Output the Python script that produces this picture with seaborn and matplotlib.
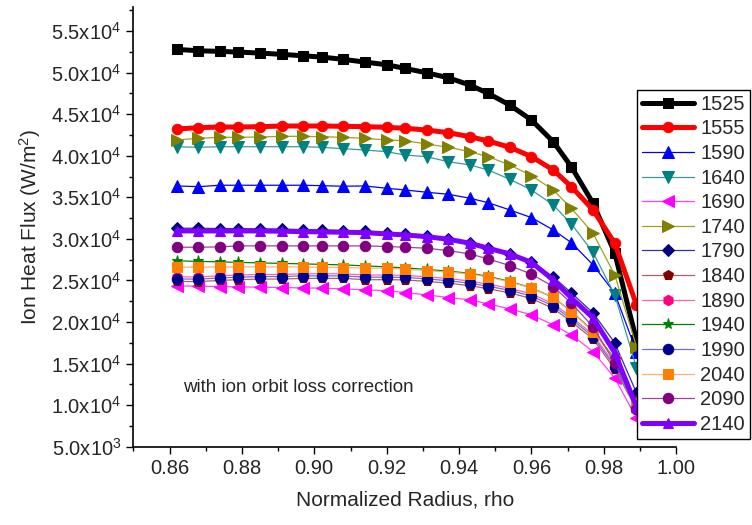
import matplotlib
matplotlib.use("Agg")
import matplotlib.pyplot as plt
import matplotlib.ticker as mticker
import seaborn as sns
import numpy as np
import pandas as pd

# normalized radius grid
rho = [0.862, 0.868, 0.874, 0.879, 0.885, 0.891, 0.897, 0.902, 0.908, 0.914, 0.920, 0.925,
       0.931, 0.937, 0.943, 0.948, 0.954, 0.960, 0.966, 0.971, 0.977, 0.983, 0.989]

# ion heat flux (W/m^2) per case
q1525 = [52800, 52630, 52560, 52475, 52355, 52200, 52030, 51875, 51600, 51270, 50950, 50515,
         49990, 49385, 48510, 47510, 46105, 44300, 41695, 38690, 34290, 28320, 17800]
q1555 = [43220, 43380, 43460, 43460, 43500, 43580, 43580, 43580, 43545, 43500, 43425, 43305,
         43100, 42780, 42295, 41780, 41025, 39895, 38295, 36290, 33490, 29485, 22070]
q1590 = [36370, 36285, 36455, 36455, 36455, 36455, 36455, 36405, 36335, 36370, 36090, 35890,
         35615, 35370, 34890, 34360, 33485, 32560, 31080, 29555, 26875, 23475, 16455]
q1640 = [41090, 41020, 41090, 41090, 41090, 41090, 41090, 41020, 40850, 40695, 40490, 40095,
         39890, 39290, 38895, 38295, 37175, 35890, 34090, 31805, 28380, 23270, 14495]
q1690 = [24350, 24315, 24265, 24230, 24195, 24145, 24110, 24075, 23990, 23870, 23785, 23545,
         23270, 22945, 22670, 22185, 21585, 20865, 19660, 18460, 16455, 13260, 8450]
q1740 = [41900, 42100, 42220, 42220, 42260, 42340, 42340, 42295, 42220, 42100, 41900, 41815,
         41420, 41020, 40490, 39890, 38895, 37610, 35890, 33690, 30685, 25670, 17055]
q1790 = [31285, 31285, 31240, 31240, 31200, 31165, 31120, 31080, 31000, 30900, 30720, 30600,
         30360, 30000, 29520, 28920, 28195, 27235, 25430, 23510, 21105, 17500, 11490]
q1840 = [24890, 24855, 25010, 25095, 25170, 25170, 25250, 25250, 25250, 25095, 25095, 25070,
         24890, 24675, 24375, 24010, 23510, 22825, 21645, 20045, 17955, 14350, 9545]
q1890 = [25450, 25420, 25570, 25650, 25720, 25720, 25800, 25800, 25800, 25650, 25650, 25620,
         25440, 25230, 24930, 24560, 24060, 23380, 22200, 20600, 18500, 14900, 10100]
q1940 = [27355, 27295, 27235, 27175, 27115, 27055, 26995, 26935, 26875, 26755, 26635, 26515,
         26335, 26115, 25875, 25495, 24890, 24110, 22965, 21285, 18940, 15575, 10530]
q1990 = [25190, 25155, 25310, 25395, 25470, 25470, 25550, 25550, 25550, 25395, 25395, 25370,
         25190, 24975, 24675, 24310, 23810, 23125, 21945, 20345, 18255, 14650, 9845]
q2040 = [26600, 26600, 26635, 26635, 26635, 26635, 26635, 26600, 26560, 26480, 26480, 26360,
         26190, 26000, 25795, 25395, 24830, 24075, 22990, 21260, 18855, 15450, 10290]
q2090 = [29000, 29000, 29040, 29160, 29160, 29160, 29160, 29160, 29160, 29160, 29080, 29000,
         28880, 28595, 28195, 27595, 26790, 25755, 24265, 22270, 19425, 15095, 9570]
q2140 = [30960, 30960, 30960, 30960, 30960, 30925, 30875, 30840, 30805, 30755, 30600, 30480,
         30275, 29960, 29480, 28880, 28195, 27175, 25070, 22910, 20505, 16300, 9810]

labels = ["1525", "1555", "1590", "1640", "1690", "1740", "1790",
          "1840", "1890", "1940", "1990", "2040", "2090", "2140"]
series = [q1525, q1555, q1590, q1640, q1690, q1740, q1790,
          q1840, q1890, q1940, q1990, q2040, q2090, q2140]

# (line colour, marker face colour, marker, marker size, line width)
styles = [
    ("#000000", "#000000", "s", 7.5, 3.6),
    ("#ff0000", "#ff0000", "o", 7.5, 3.6),
    ("#0000ff", "#0000ff", "^", 8.0, 0.9),
    ("#3a9a9a", "#008080", "v", 8.0, 0.9),
    ("#ff40ff", "#ff00ff", "<", 8.0, 0.9),
    ("#a0a020", "#808000", ">", 8.0, 0.9),
    ("#3030a0", "#000080", "D", 6.0, 0.9),
    ("#b06060", "#800000", "p", 7.5, 0.9),
    ("#ff60a8", "#ff0080", "h", 7.5, 0.9),
    ("#008000", "#008000", "*", 8.0, 0.9),
    ("#7070d0", "#000090", "o", 7.5, 0.9),
    ("#ffb070", "#ff8000", "s", 6.5, 0.9),
    ("#a040a0", "#800080", "o", 7.5, 0.9),
    ("#8000ff", "#8000ff", "^", 6.5, 3.6),
]

sns.set_style("ticks")
plt.rcParams["font.family"] = ["Liberation Sans", "DejaVu Sans"]
plt.rcParams["mathtext.default"] = "regular"

fig = plt.figure(figsize=(7.52, 5.25), dpi=100)
ax = fig.add_axes([0.1773, 0.1491, 0.7220, 0.8376])

for lab, vals, (lc, mc, mk, ms, lw) in zip(labels, series, styles):
    df = pd.DataFrame({"rho": rho, "q": vals})
    sns.lineplot(data=df, x="rho", y="q", ax=ax, color=lc, marker=mk,
                 markersize=ms, markerfacecolor=mc, markeredgecolor=mc,
                 linewidth=lw, label=lab)

ax.set_xlim(0.85, 1.0)
ax.set_ylim(5000, 57900)
ax.xaxis.set_major_locator(mticker.MultipleLocator(0.02))
ax.xaxis.set_minor_locator(mticker.MultipleLocator(0.01))
ax.yaxis.set_major_locator(mticker.MultipleLocator(5000))
ax.yaxis.set_minor_locator(mticker.MultipleLocator(2500))
ax.xaxis.set_major_formatter(mticker.FormatStrFormatter("%.2f"))


def sci(v, pos):
    if v <= 0:
        return ""
    e = int(np.floor(np.log10(v)))
    return r"%.1fx10$^{%d}$" % (v / 10 ** e, e)


ax.yaxis.set_major_formatter(mticker.FuncFormatter(sci))
ax.tick_params(which="major", length=5, width=1, labelsize=14.5, color="black")
ax.tick_params(which="minor", length=3, width=1, color="black")
for s in ["left", "bottom"]:
    ax.spines[s].set_linewidth(1.2)
    ax.spines[s].set_color("black")
sns.despine(ax=ax)

ax.set_xlabel("Normalized Radius, rho", fontsize=15, labelpad=9)
ax.set_ylabel("Ion Heat Flux (W/m$^2$)", fontsize=15, labelpad=6)
ax.text(0.8637, 12090, "with ion orbit loss correction", fontsize=13.5, va="center", ha="left")

leg = ax.legend(loc="lower right", bbox_to_anchor=(750 / 752, 86 / 525),
                bbox_transform=fig.transFigure, frameon=True, fancybox=False,
                fontsize=14.5, numpoints=1, handlelength=2.6, handletextpad=0.3,
                labelspacing=0.28, borderpad=0.25, borderaxespad=0)
leg.get_frame().set_edgecolor("black")
leg.get_frame().set_linewidth(1.0)
leg.get_frame().set_alpha(1)

fig.savefig("out.png", dpi=100)
